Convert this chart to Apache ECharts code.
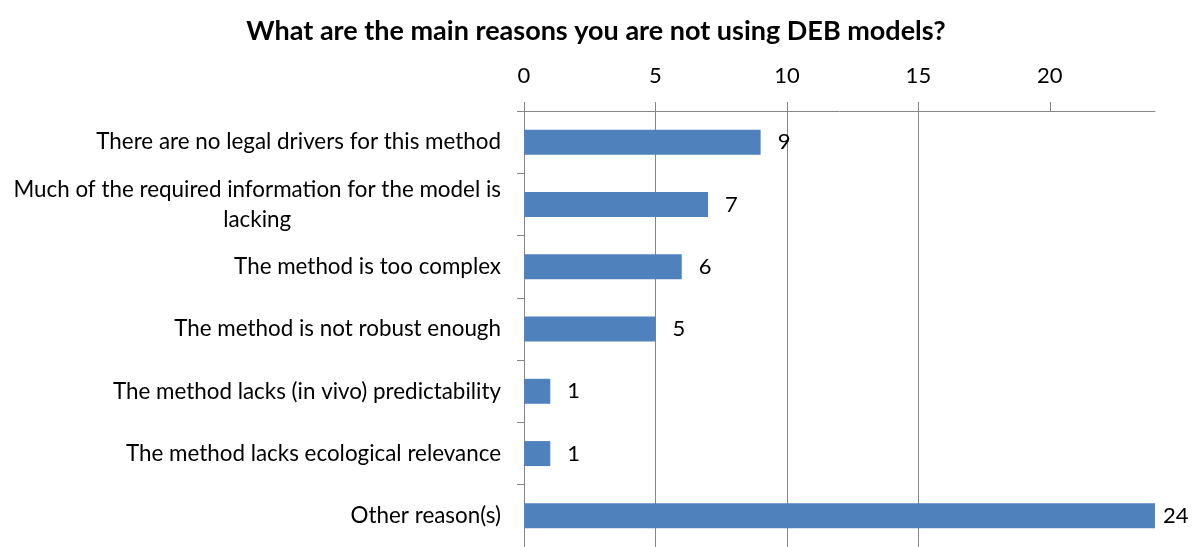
<!DOCTYPE html>
<html>
<head>
<meta charset="utf-8">
<script src="https://cdn.jsdelivr.net/npm/echarts@6/dist/echarts.min.js"></script>
<style>html,body{margin:0;padding:0;background:#fff}#c{width:1192px;height:547px}</style>
</head>
<body>
<div id="c"></div>
<script>
const categories = [
  "There are no legal drivers for this method",
  "Much of the required information for the model is\nlacking",
  "The method is too complex",
  "The method is not robust enough",
  "The method lacks (in vivo) predictability",
  "The method lacks ecological relevance",
  "Other reason(s)"
];
const counts = [9, 7, 6, 5, 1, 1, 24];
const xTicks = [0, 5, 10, 15, 20];
const titleText = "What are the main reasons you are not using DEB models?";

const FONT = "Lato";
const chart = echarts.init(document.getElementById('c'), null, {renderer: 'canvas'});
chart.setOption({
  animation: false,
  backgroundColor: '#fff',
  title: {
    text: titleText, left: 'center', top: 13,
    textStyle: {fontFamily: FONT, fontWeight: 'bold', fontSize: 27, color: '#000'}
  },
  grid: {left: 524, top: 111, right: 37, height: 441},
  xAxis: {
    type: 'value', position: 'top', min: 0, max: 24, interval: 5,
    axisLine: {show: true, lineStyle: {color: '#868686', width: 1}},
    axisTick: {show: true, length: 9, inside: false, customValues: xTicks, lineStyle: {color: '#868686'}},
    axisLabel: {customValues: xTicks, margin: 24, fontFamily: FONT, fontSize: 22, color: '#000'},
    splitLine: {show: true, showMaxLine: false, lineStyle: {color: '#868686', width: 1}}
  },
  yAxis: {
    type: 'category', data: categories, inverse: true,
    axisLine: {show: true, lineStyle: {color: '#868686', width: 1}},
    axisTick: {show: true, length: 7, lineStyle: {color: '#868686'}},
    axisLabel: {
      margin: 23, fontFamily: FONT, fontSize: 22.4, color: '#000', align: 'right', lineHeight: 30,
      formatter: function (v) {
        if (v.indexOf('\n') >= 0) {
          const parts = v.split('\n');
          return '{c|' + parts[0] + '}\n{c|' + parts[1] + '}';
        }
        return v;
      },
      rich: {c: {align: 'center', fontFamily: FONT, fontSize: 22.4, color: '#000', lineHeight: 30}}
    }
  },
  series: [{
    type: 'bar',
    data: counts.map(function (v, i) {
      return i === counts.length - 1 ? {value: v, label: {distance: 8}} : v;
    }),
    barWidth: 25,
    itemStyle: {color: '#4F81BD'},
    label: {show: true, position: 'right', distance: 17, fontFamily: FONT, fontSize: 22, color: '#000'}
  }]
});
</script>
</body>
</html>
